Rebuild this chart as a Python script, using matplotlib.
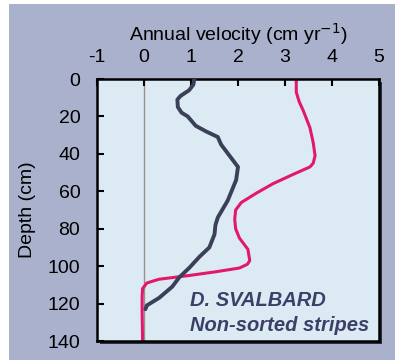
import matplotlib.pyplot as plt
from matplotlib.patches import Rectangle

# dark profile (velocity cm/yr, depth cm)
dark_vel = [1.07, 1.05, 0.96, 0.78, 0.71, 0.72, 0.80, 0.93, 1.10, 1.32, 1.57, 1.64, 1.82, 2.00, 1.96,
            1.78, 1.57, 1.52, 1.50, 1.39, 1.18, 0.96, 0.75, 0.60, 0.32, 0.06, 0.03]
dark_depth = [0, 3, 6, 9, 11, 15, 18, 20, 25, 28, 31, 35, 41, 47, 54,
              65, 74, 78, 83, 90, 95, 101, 106, 111, 117, 121, 123]

# pink profile
pink_vel = [3.24, 3.24, 3.30, 3.39, 3.53, 3.60, 3.64, 3.60, 3.53, 3.17, 2.74, 2.39, 2.07, 1.95, 1.93,
            1.95, 2.03, 2.21, 2.25, 2.20, 2.03, 1.53, 0.96, 0.32, 0.06, -0.03, -0.04, -0.04, -0.03]
pink_depth = [0, 7, 12, 17, 26, 34, 41, 45, 47, 51, 56, 61, 66, 70, 75,
              80, 85, 91, 97, 99, 101, 103, 105, 107, 109, 112, 116, 125, 140]

xticks = [-1, 0, 1, 2, 3, 4, 5]
yticks = [0, 20, 40, 60, 80, 100, 120, 140]

bg = '#a9b1cc'
plt.rcParams['font.family'] = 'Liberation Sans'
plt.rcParams['axes.unicode_minus'] = False
fig = plt.figure(figsize=(3.95, 3.6), dpi=100, facecolor='white')
fig.patches.append(Rectangle((9/395, 0), 1, 1 - 4/360, transform=fig.transFigure,
                             facecolor=bg, edgecolor='none', zorder=0))

l, b, w, h = 97/395, 1 - 341/360, 282/395, 262/360
# shadow behind the frame
fig.patches.append(Rectangle((l + 3/395, b - 3/360), w, h, transform=fig.transFigure,
                             facecolor='#2e3040', edgecolor='none', zorder=1))
ax = fig.add_axes([l, b, w, h])
ax.set_zorder(5)
ax.set_facecolor('#dcebf3')

ax.axvline(0, color='#9b9088', lw=1.0, zorder=1)
ax.plot(dark_vel, dark_depth, color='#3b3f57', lw=2.8, solid_capstyle='round', zorder=3)
ax.plot(pink_vel, pink_depth, color='#e2186c', lw=2.2, zorder=2)

ax.set_xlim(-1, 5)
ax.set_ylim(140, 0)
ax.set_xticks(xticks)
ax.set_yticks(yticks)
ax.xaxis.tick_top()
ax.xaxis.set_label_position('top')
ax.tick_params(direction='in', length=5, width=1.5, labelsize=14, color='black')
ax.tick_params(axis='x', pad=9)
ax.tick_params(axis='y', pad=12)
for s in ax.spines.values():
    s.set_linewidth(1.8)
ax.set_xlabel('Annual velocity (cm yr$^{-1}$)', fontsize=14, labelpad=6)
ax.set_ylabel('Depth (cm)', fontsize=14, labelpad=8)

ax.text(0.33, 0.156, 'D. SVALBARD', transform=ax.transAxes, fontsize=14.5, fontweight='bold',
        style='italic', color='#3c4068', ha='left', va='center')
ax.text(0.33, 0.061, 'Non-sorted stripes', transform=ax.transAxes, fontsize=14.5, fontweight='bold',
        style='italic', color='#3c4068', ha='left', va='center')

fig.savefig('out.png', dpi=100, facecolor=fig.get_facecolor())
